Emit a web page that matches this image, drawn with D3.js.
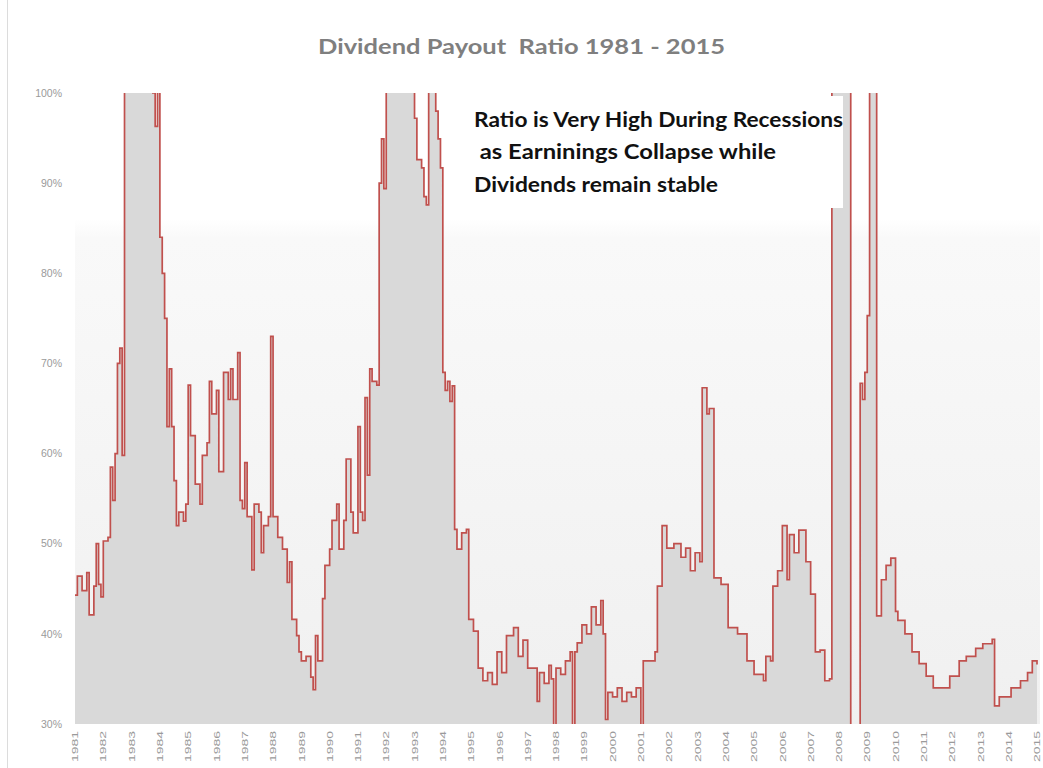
<!DOCTYPE html>
<html>
<head>
<meta charset="utf-8">
<script src="https://d3js.org/d3.v7.min.js"></script>
<style>
body { margin: 0; background: #fff; }
</style>
</head>
<body>
<div id="chart"></div>
<script>

// months since Jan 1981 and the payout ratio (%)
// (130/150 = off the top of the chart, 10/20/29 = below the bottom)
var months = [0, 1, 3, 5, 6, 8, 9, 10, 11, 12, 14, 15, 16, 17, 18, 19, 20, 21, 32, 33,
  34, 35, 36, 37, 38, 39, 40, 41, 42, 43, 44, 46, 47, 48, 49, 51, 53, 54, 56, 57,
  58, 60, 61, 63, 64, 65, 66, 67, 69, 70, 71, 72, 73, 75, 76, 78, 79, 80, 82, 83,
  84, 86, 88, 90, 91, 92, 94, 95, 96, 98, 100, 101, 102, 103, 105, 106, 108, 109, 111, 112,
  114, 115, 117, 118, 120, 121, 122, 123, 124, 125, 126, 128, 129, 130, 131, 132, 143, 144, 145, 147,
  148, 149, 150, 152, 153, 154, 155, 156, 157, 158, 159, 160, 161, 162, 164, 166, 167, 169, 171, 173,
  175, 177, 179, 181, 183, 186, 188, 190, 192, 194, 196, 197, 199, 201, 202, 203, 204, 206, 208, 210,
  211, 212, 213, 215, 217, 219, 221, 223, 224, 225, 226, 228, 230, 232, 234, 236, 238, 240, 241, 244,
  246, 247, 249, 251, 254, 257, 259, 261, 263, 265, 266, 268, 269, 271, 274, 277, 281, 285, 288, 292,
  293, 295, 296, 298, 300, 302, 303, 305, 307, 310, 312, 314, 316, 318, 320, 321, 328, 329, 332, 333,
  334, 335, 336, 337, 339, 340, 342, 344, 346, 348, 349, 352, 355, 358, 361, 364, 368, 371, 375, 378,
  382, 385, 389, 390, 392, 397, 401, 404, 406, 408];

var payout = [44.3, 46.4, 44.8, 46.8, 42.1, 45.3, 50, 45.5, 44.1, 50.3, 50.7, 58.5, 54.8, 60, 70, 71.7, 59.8, 130, 130, 100,
  96.3, 101, 84, 80, 75, 63, 69.4, 63, 57, 52, 53.5, 52.5, 54.4, 67.6, 62, 56.6, 54.4, 59.8, 61.2, 68,
  64.4, 67, 58, 69, 69, 66, 69.4, 66, 71.2, 54.8, 53.9, 59, 53, 47.1, 54.4, 53.5, 49, 52, 53, 73,
  53, 50.7, 49.4, 45.7, 48, 41.6, 39.8, 38, 37, 37.5, 35.2, 33.8, 39.8, 37, 43.9, 47.6, 49.4, 52.6, 54.4, 49.4,
  52.6, 59.4, 53.5, 51.2, 63, 53.5, 52.6, 66.2, 57.6, 69.4, 68, 67.6, 90, 94.9, 89.4, 130, 130, 97.2, 92.6, 91.7,
  88.5, 87.6, 130, 130, 98, 94.9, 91.7, 69, 67, 68, 65.8, 67.5, 51.6, 49.4, 51.2, 51.6, 41.6, 40.3, 36.2, 34.8,
  35.7, 34.4, 38, 35.7, 39.8, 40.7, 37.5, 39.3, 36.2, 36.2, 32.5, 35.7, 34.5, 36.5, 35, 20, 36.2, 35.5, 37, 38,
  20, 38, 39, 41, 40, 43, 41, 43.7, 40, 30.5, 33.5, 33, 34, 32.5, 33.5, 33, 34, 29, 37, 37,
  38, 45.3, 52, 49.5, 50, 48.5, 49.5, 47, 49, 48, 67.3, 64.4, 65, 46.2, 45.5, 40.7, 40, 37, 35.5, 34.8,
  37.5, 37, 45.3, 47, 52, 46, 51, 49, 51.5, 48, 44.4, 38, 38.2, 34.8, 35, 150, 150, 10, 10, 67.8,
  66, 69, 75.3, 150, 150, 42, 46, 47.6, 48.4, 42.5, 41.5, 40, 38, 36.7, 35.3, 34, 34, 35.3, 37, 37.5,
  38.4, 38.9, 39.4, 32, 33, 34, 34.8, 35.7, 37, 36.6];

var tickYears = [1981, 1982, 1983, 1984, 1985, 1986, 1987, 1988, 1989, 1990, 1991, 1992,
  1993, 1994, 1995, 1996, 1997, 1998, 1999, 2000, 2001, 2002, 2003, 2004, 2005, 2006,
  2007, 2008, 2009, 2010, 2011, 2012, 2013, 2014, 2015];

var yTicks = [30, 40, 50, 60, 70, 80, 90, 100];

var titleText = "Dividend Payout  Ratio 1981 - 2015";
var noteLines = ["Ratio is Very High During Recessions",
                 " as Earninings Collapse while",
                 "Dividends remain stable"];

var W = 1043, H = 768;

var svg = d3.select("#chart").append("svg")
    .attr("width", W)
    .attr("height", H)
    .style("display", "block");

var x = d3.scaleLinear().domain([0, 408]).range([75, 1037]);
var y = d3.scaleLinear().domain([30, 100]).range([724, 93]);

var defs = svg.append("defs");
var grad = defs.append("linearGradient")
    .attr("id", "bg").attr("x1", 0).attr("y1", 0).attr("x2", 0).attr("y2", 1);
grad.append("stop").attr("offset", "0%").attr("stop-color", "#ffffff");
grad.append("stop").attr("offset", "20%").attr("stop-color", "#ffffff");
grad.append("stop").attr("offset", "23%").attr("stop-color", "#f9f9f9");
grad.append("stop").attr("offset", "100%").attr("stop-color", "#f0f0f0");

defs.append("clipPath").attr("id", "plotclip")
  .append("rect")
    .attr("x", 70).attr("y", y(100))
    .attr("width", 1040 - 70).attr("height", y(30) - y(100));

// chart frame (only the left edge shows in the picture)
svg.append("line")
    .attr("x1", 7.5).attr("x2", 7.5)
    .attr("y1", 0).attr("y2", H)
    .attr("stroke", "#dcdcdc");

// plot background
svg.append("rect")
    .attr("x", x(0)).attr("y", y(100))
    .attr("width", 1040 - x(0)).attr("height", y(30) - y(100))
    .attr("fill", "url(#bg)");

var data = months.map(function(m, i) { return {m: m, v: payout[i]}; });

var plot = svg.append("g").attr("clip-path", "url(#plotclip)");

plot.append("path")
    .datum(data)
    .attr("fill", "#d9d9d9")
    .attr("d", d3.area()
      .curve(d3.curveStepAfter)
      .x(function(d) { return x(d.m); })
      .y0(y(30))
      .y1(function(d) { return y(d.v); }));

plot.append("path")
    .datum(data)
    .attr("fill", "none")
    .attr("stroke", "#c0504d")
    .attr("stroke-width", 1.7)
    .attr("d", d3.line()
      .curve(d3.curveStepAfter)
      .x(function(d) { return x(d.m); })
      .y(function(d) { return y(d.v); }));

// y axis labels
svg.append("g")
  .selectAll("text")
  .data(yTicks)
  .enter().append("text")
    .attr("x", 62)
    .attr("y", function(d) { return y(d); })
    .attr("dy", "0.35em")
    .attr("text-anchor", "end")
    .style("font-family", "Liberation Sans, Arial, sans-serif")
    .style("font-size", "10.5px")
    .attr("fill", "#9a9a9a")
    .text(function(d) { return d + "%"; });

// x axis labels (rotated)
svg.append("g")
  .selectAll("text")
  .data(tickYears)
  .enter().append("text")
    .attr("transform", function(d) {
      return "translate(" + x((d - 1981) * 12) + ",762) rotate(-90)";
    })
    .attr("dy", "0.35em")
    .attr("text-anchor", "start")
    .attr("textLength", 31)
    .attr("lengthAdjust", "spacingAndGlyphs")
    .style("font-family", "Liberation Sans, Arial, sans-serif")
    .style("font-size", "9px")
    .attr("fill", "#9a9a9a")
    .text(function(d) { return d; });

// title
svg.append("text")
    .attr("x", 318)
    .attr("y", 54)
    .attr("textLength", 407)
    .attr("lengthAdjust", "spacingAndGlyphs")
    .attr("xml:space", "preserve")
    .style("white-space", "pre")
    .style("font-family", "Lato, 'Open Sans', sans-serif")
    .style("font-size", "21px")
    .style("font-weight", "bold")
    .attr("fill", "#7f7f7f")
    .text(titleText);

// annotation box sits on top of the data
svg.append("rect")
    .attr("x", 466).attr("y", 96)
    .attr("width", 843 - 466).attr("height", 208 - 96)
    .attr("fill", "#ffffff");

var noteX = [474, 474, 474];
var noteLen = [369, 302, 244];
var noteY = [127, 159, 192];
svg.append("g")
  .selectAll("text")
  .data(noteLines)
  .enter().append("text")
    .attr("x", function(d, i) { return noteX[i]; })
    .attr("y", function(d, i) { return noteY[i]; })
    .attr("textLength", function(d, i) { return noteLen[i]; })
    .attr("lengthAdjust", "spacingAndGlyphs")
    .attr("xml:space", "preserve")
    .style("white-space", "pre")
    .style("font-family", "Lato, 'Open Sans', sans-serif")
    .style("font-size", "20px")
    .style("font-weight", "bold")
    .attr("fill", "#111")
    .text(function(d) { return d; });

</script>
</body>
</html>
